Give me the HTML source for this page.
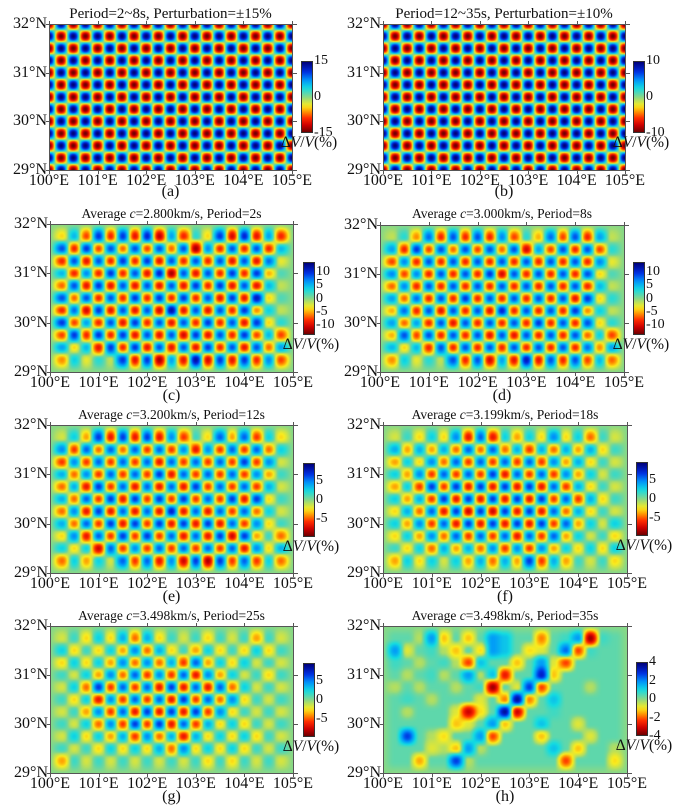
<!DOCTYPE html>
<html><head><meta charset="utf-8">
<style>
body{margin:0;background:#fff;width:679px;height:811px;position:relative;overflow:hidden;font-family:"Liberation Serif",serif;color:#111}
.abs{position:absolute;white-space:nowrap}
canvas{position:absolute;display:block}
.frame{position:absolute;border:1px solid #555;box-sizing:border-box}
.cb{position:absolute;border:1px solid #333;box-sizing:border-box}
</style></head>
<body>
<div id="root"></div>
<script>
// ---- data ----
const lonTicks=[100,101,102,103,104,105];
const latTicks=[29,30,31,32];
const ampA=[15];
const ampB=[10];
const ampC=[
[3,4,7,9,8,9,9,10,11,5,8,2,3,9,10,10,9,5,8],
[8,8,9,7,8,6,8,7,8,6,8,12,6,8,8,8,8,8,4],
[8,8,9,8,8,9,8,9,9,8,8,8,8,8,9,8,9,7,2],
[4,8,6,8,9,8,8,9,10,12,8,9,8,8,9,8,9,4,1],
[6,8,9,9,9,8,9,8,9,8,9,9,8,9,9,8,9,4,1],
[8,6,8,8,8,8,9,8,9,8,9,8,8,9,9,9,11,3,1],
[8,7,10,9,9,8,9,8,10,12,9,8,9,8,8,9,5,3,1],
[9,7,5,8,8,9,9,8,8,9,8,8,9,8,8,9,9,3,2],
[7,9,8,9,8,9,9,8,9,8,10,9,9,8,8,9,7,4,7],
[5,3,4,9,9,8,9,9,8,9,8,9,9,8,8,9,8,6,5],
[5,3,2,2,1,9,9,9,12,5,9,12,10,9,9,9,8,6,7]];
const ampD=[
[1,2,5,7,8,8,8,8,8,6,7,2,4,7,7,8,8,5,1],
[5,8,9,7,8,6,8,7,8,6,8,10,5,7,8,8,8,7,2],
[7,6,8,8,8,8,8,8,8,8,8,8,8,8,8,8,8,6,2],
[6,7,6,8,8,8,8,8,9,10,8,8,8,8,8,8,8,3,1],
[6,6,8,8,8,8,8,8,8,8,8,8,8,8,8,8,8,4,1],
[5,6,7,8,8,8,9,8,8,8,8,8,8,8,8,9,9,3,2],
[4,7,8,8,9,8,8,8,9,10,8,8,8,8,8,9,5,3,1],
[5,6,5,8,8,9,8,8,8,8,8,8,9,8,8,8,8,3,2],
[4,8,7,8,8,8,8,8,9,8,9,8,8,8,8,8,6,3,7],
[4,3,4,8,8,8,8,8,8,8,8,8,8,8,8,8,7,5,5],
[5,3,2,2,1,8,8,8,10,5,9,11,9,8,8,8,7,4,6]];
const ampE=[
[1,2,3,6,6,6,6,6,6,4,5,1,2,5,3,5,5,2,2],
[4,5,5,4,5,4,5,5,5,5,4,6,4,5,5,5,5,4,2],
[5,4,5,5,5,5,5,5,6,5,5,5,5,5,5,6,5,4,1],
[3,4,4,5,5,5,5,5,6,6,5,5,5,5,5,5,4,3,1],
[4,3,6,6,5,5,6,5,6,5,6,6,5,5,5,5,5,3,1],
[3,4,5,5,6,6,6,5,6,5,6,5,5,5,6,6,6,2,1],
[4,4,6,6,6,5,6,5,6,7,6,5,6,5,5,5,4,2,1],
[3,4,5,5,6,6,6,5,6,6,6,6,6,6,5,5,4,2,1],
[2,4,6,5,5,6,5,6,5,5,6,5,6,6,7,6,3,1,4],
[2,2,2,7,5,5,4,5,5,5,5,5,5,5,5,6,4,2,3],
[4,2,3,2,1,5,5,5,6,4,7,6,8,6,5,5,5,2,4]];
const ampF=[
[1,1,2,2,2,4,6,5,6,2,3,2,2,4,2,2,4,1,1],
[3,3,3,3,3,4,5,4,5,4,3,5,3,4,3,3,3,2,1],
[3,2,2,4,4,5,5,5,5,5,5,5,5,4,3,3,2,1,1],
[2,3,4,5,5,5,5,5,6,6,5,5,5,5,4,3,2,1,1],
[3,2,5,6,5,6,6,6,6,6,6,6,6,5,5,3,2,1,1],
[2,3,3,5,6,6,6,6,6,6,6,6,6,5,5,5,3,2,1],
[2,3,4,5,6,6,7,6,7,6,6,6,6,5,4,3,2,1,1],
[2,3,4,5,5,6,6,6,6,6,6,6,6,5,5,3,2,1,2],
[2,2,3,4,4,5,5,5,5,5,6,5,5,5,3,2,1,1,2],
[1,2,2,4,3,3,3,4,4,5,4,5,4,3,2,2,2,2,2],
[3,2,2,2,1,2,3,3,4,3,3,6,5,3,3,1,1,1,2]];
const ampG=[
[1,1,2,2,2,3,4,3,2,1,1,1,2,1,1,1,3,1,1],
[2,2,1,2,2,3,4,4,3,2,1,3,2,2,1,2,2,2,1],
[2,2,2,2,3,4,4,4,4,3,5,5,3,2,2,2,1,1,1],
[1,1,2,3,4,4,5,5,4,5,5,6,4,3,2,1,1,2,1],
[1,2,4,6,5,5,5,5,6,6,6,5,6,5,4,2,1,1,1],
[1,2,2,6,4,5,5,5,5,6,6,5,5,4,4,2,1,1,1],
[1,1,3,4,5,5,6,6,6,6,6,6,5,4,2,1,1,1,1],
[1,1,2,4,4,5,6,5,6,6,5,5,3,2,2,2,1,1,1],
[1,2,2,2,3,3,5,4,4,3,6,3,2,2,2,2,2,1,1],
[1,1,1,2,2,2,2,2,3,4,4,2,2,2,2,2,1,1,1],
[3,1,1,1,1,1,1,1,1,1,1,1,2,1,2,1,1,1,1]];
const valH=[
[0.2,0.2,-0.2,1.5,-1,0.2,-1,0.2,1.5,1,0.2,0.2,-1.5,0.2,0.4,1.5,-3.5,0.4,0.2],
[1.5,-0.5,0.2,0.4,-0.2,-1,0.2,-0.8,1.5,1,0.2,-0.8,-0.5,0.2,2,-2,0.4,0.2,0.2],
[0.4,0.2,-0.2,0.2,0.4,-0.2,-2,1,0.2,0.2,-1,0.2,1.5,-0.5,-2,0.2,0.2,0.2,0.2],
[0.2,-0.2,0.2,0.4,-0.2,0.2,1.5,-0.2,1,-2.5,0.2,0.2,3,-1,0.2,0.2,0.2,0.2,0.2],
[-0.2,0.2,-0.2,0.2,0.2,-0.2,0.2,0.4,-3.5,0.2,-0.5,2.5,-2,0.2,0.2,0.2,-0.2,0.2,0.2],
[0.2,0.4,0.2,-0.2,0.2,0.2,0.2,-0.5,0.2,-1.5,3.5,-1.5,0.2,1,0.2,0.2,0.2,0.2,0.2],
[0.2,-0.2,0.2,0.2,0.2,-0.5,-3,-0.8,0.2,3.5,-3,0.2,0.2,0.4,0.2,0.2,0.2,0.2,0.2],
[0.2,0.2,0.2,0.2,0.2,-1,-0.5,0.2,1.5,-1,0.2,0.2,1,0.2,0.2,-0.5,0.2,0.2,0.2],
[0.2,2.5,0.2,-0.2,-0.8,0.2,0.2,1.5,-2,0.2,0.2,0.2,-1,0.2,0.2,0.2,-0.5,0.2,0.2],
[0.2,0.2,0.2,-0.5,-0.2,-1,1.5,-0.2,0.2,0.2,0.2,0.2,0.2,1,0.2,-1,0.2,0.2,-0.2],
[0.2,0.2,-1.2,0.2,0.2,2.5,-0.2,0.2,0.2,0.2,0.2,0.2,0.2,0.2,-2,0.2,0.2,0.2,-0.8]];
const cbTicksA=[15,0,-15], cbTicksB=[10,0,-10], cbTicksCD=[10,5,0,-5,-10], cbTicksEFG=[5,0,-5], cbTicksH=[4,2,0,-2,-4];
const cbMax=[15,10,14,14,9.5,9.5,9.5,4];
const titles=['Period=2~8s, Perturbation=±15%','Period=12~35s, Perturbation=±10%',
'Average <i>c</i>=2.800km/s, Period=2s','Average <i>c</i>=3.000km/s, Period=8s',
'Average <i>c</i>=3.200km/s, Period=12s','Average <i>c</i>=3.199km/s, Period=18s',
'Average <i>c</i>=3.498km/s, Period=25s','Average <i>c</i>=3.498km/s, Period=35s'];
const letters=['a','b','c','d','e','f','g','h'];

// ---- layout ----
const L=[
{x:49,y:24,w:243,h:146,cx:301,cy:61,ch:72,ly:192,ty:14,ts:15},
{x:383,y:24,w:242,h:146,cx:633,cy:61,ch:72,ly:192,ty:14,ts:15},
{x:50,y:224,w:243,h:148,cx:303,cy:262,ch:73,ly:396,ty:214,ts:13.5},
{x:380,y:225,w:244,h:147,cx:633,cy:262,ch:73,ly:396,ty:214,ts:13.5},
{x:50,y:425,w:243,h:148,cx:303,cy:463,ch:74,ly:597,ty:415,ts:13.5},
{x:383,y:425,w:244,h:148,cx:636,cy:462,ch:74,ly:597,ty:415,ts:13.5},
{x:50,y:626,w:243,h:147,cx:303,cy:663,ch:74,ly:797,ty:616,ts:13.5},
{x:383,y:626,w:244,h:147,cx:636,cy:662,ch:74,ly:797,ty:616,ts:13.5}];

function uniformGrid(a){const g=[];for(let j=0;j<=12;j++){const r=[];for(let i=0;i<=20;i++)r.push(-Math.pow(-1,i+j)*a);g.push(r);}return g;}
function checkerGrid(rows){const g=[];for(let j=0;j<=12;j++){const r=[];for(let i=0;i<=20;i++){let v=0;if(j>=1&&j<=11&&i>=1&&i<=19){v=-Math.pow(-1,i+j)*rows[11-j][i-1];}r.push(v);}g.push(r);}return g;}
function signedGrid(rows){const g=[];for(let j=0;j<=12;j++){const r=[];for(let i=0;i<=20;i++){let v=0;if(j>=1&&j<=11&&i>=1&&i<=19)v=rows[11-j][i-1];r.push(v);}g.push(r);}return g;}
const grids=[uniformGrid(ampA[0]),uniformGrid(ampB[0]),checkerGrid(ampC),checkerGrid(ampD),checkerGrid(ampE),checkerGrid(ampF),checkerGrid(ampG),signedGrid(valH)];
const cbt=[cbTicksA,cbTicksB,cbTicksCD,cbTicksCD,cbTicksEFG,cbTicksEFG,cbTicksEFG,cbTicksH];

const stops=[[-1,[110,0,0]],[-0.8,[205,0,0]],[-0.6,[255,45,0]],[-0.42,[255,150,0]],[-0.25,[250,236,30]],[-0.08,[175,222,100]],[0,[135,216,135]],[0.1,[90,215,175]],[0.25,[20,220,225]],[0.48,[0,150,250]],[0.72,[0,45,225]],[1,[0,0,120]]];
function cmap(t){t=Math.max(-1,Math.min(1,t));for(let k=0;k<stops.length-1;k++){const a=stops[k],b=stops[k+1];if(t<=b[0]){const f=(t-a[0])/(b[0]-a[0]);return [0,1,2].map(c=>a[1][c]+(b[1][c]-a[1][c])*f);}}return stops[stops.length-1][1];}
const lonX=(lon,p)=>p.x+(lon-100)/5*p.w;
const latY=(lat,p)=>p.y+(32-lat)/3*p.h;
const root=document.getElementById('root');
function add(tag,cls,style,html){const e=document.createElement(tag);if(cls)e.className=cls;e.style.cssText=style;if(html!==undefined)e.innerHTML=html;root.appendChild(e);return e;}

L.forEach((p,k)=>{
  const G=grids[k],M=cbMax[k];
  const cv=add('canvas','', `left:${p.x}px;top:${p.y}px;width:${p.w}px;height:${p.h}px`);
  
  
  cv.width=p.w;cv.height=p.h;
  const ctx=cv.getContext('2d'),img=ctx.createImageData(p.w,p.h);
  for(let py=0;py<p.h;py++)for(let px=0;px<p.w;px++){
    const lon=100+(px+0.5)/p.w*5,lat=32-(py+0.5)/p.h*3;
    const u=(lon-100)/0.25,v=(lat-29)/0.25;
    const i0=Math.min(19,Math.floor(u)),j0=Math.min(11,Math.floor(v));
    const fu=u-i0,fv=v-j0;
    const ku0=Math.cos(Math.PI*fu/2)**2,ku1=1-ku0,kv0=Math.cos(Math.PI*fv/2)**2,kv1=1-kv0;
    let f=G[j0][i0]*ku0*kv0+G[j0][i0+1]*ku1*kv0+G[j0+1][i0]*ku0*kv1+G[j0+1][i0+1]*ku1*kv1;
    let t=f/M;t=Math.sign(t)*Math.pow(Math.abs(t),0.8);
    const c=cmap(t),o=(py*p.w+px)*4;
    img.data[o]=c[0];img.data[o+1]=c[1];img.data[o+2]=c[2];img.data[o+3]=255;
  }
  ctx.putImageData(img,0,0);
  const fr=add('div','frame',`left:${p.x}px;top:${p.y}px;width:${p.w+1}px;height:${p.h+1}px`);
  
  
  lonTicks.forEach(lon=>{
    const X=lonX(lon,p);
    add('div','',`position:absolute;left:${X}px;top:${p.y+p.h}px;width:1px;height:4px;background:#555`);
    add('div','',`position:absolute;left:${X}px;top:${p.y-3}px;width:1px;height:3px;background:#555`);
    const t=add('div','abs',`left:${X-30}px;width:60px;text-align:center;top:${p.y+p.h+2}px;font-size:16px;line-height:17px`,lon+'°E');
    
    
  });
  latTicks.forEach(lat=>{
    const Y=latY(lat,p);
    add('div','',`position:absolute;left:${p.x-3}px;top:${Y}px;width:3px;height:1px;background:#555`);
    add('div','',`position:absolute;left:${p.x+p.w+1}px;top:${Y}px;width:4px;height:1px;background:#555`);
    const t=add('div','abs',`left:${p.x-62}px;width:60px;text-align:right;top:${Y-9}px;font-size:16px;line-height:17px`,lat+'°N');
    
    
  });
  const ti=add('div','abs',`left:${p.x+p.w/2-160}px;width:320px;text-align:center;top:${p.ty-9}px;font-size:${p.ts}px;line-height:18px`,titles[k]);
  
  
  const le=add('div','abs',`left:${p.x+p.w/2-20}px;width:40px;text-align:center;top:${p.ly-9}px;font-size:16px;line-height:18px`,'('+letters[k]+')');
  
  
  const grad=[];for(let s=0;s<=20;s++){const c=cmap(1-s/10);grad.push(`rgb(${c.map(Math.round).join(',')}) ${s*5}%`);}
  const cb=add('div','cb',`left:${p.cx}px;top:${p.cy}px;width:12px;height:${p.ch}px;background:linear-gradient(to bottom,${grad.join(',')})`);
  
  
  cbt[k].forEach(v=>{
    const Y=p.cy+p.ch/2-v/M*p.ch/2;
    const t=add('div','abs',`left:${p.cx+13}px;top:${Y-8}px;font-size:14px;line-height:15px`,String(v));
    
    
  });
  const cl=add('div','abs',`left:${p.cx+8-35}px;width:70px;text-align:center;top:${p.cy+p.ch+1}px;font-size:15.5px;line-height:17px`,'Δ<i>V</i>/<i>V</i>(%)');
  
  
});
</script>
</body></html>
